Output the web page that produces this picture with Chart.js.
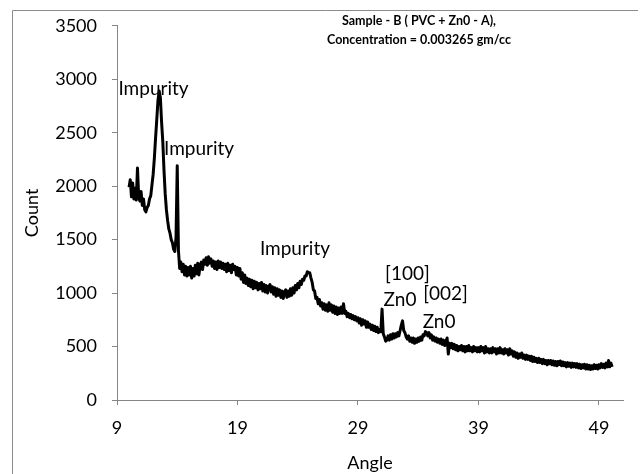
<!DOCTYPE html>
<html>
<head>
<meta charset="utf-8">
<title>Sample - B XRD</title>
<script src="https://cdn.jsdelivr.net/npm/chart.js"></script>
<style>
  html, body { margin: 0; padding: 0; background: #fff; overflow: hidden; }
  canvas { display: block; }
</style>
</head>
<body>
<canvas id="xrd" width="641" height="474"></canvas>
<script>
// diffraction angle (2 theta), step 0.1
const angles = [
  10.0, 10.1, 10.2, 10.3, 10.4, 10.5, 10.6, 10.7, 10.8, 10.9,
  11.0, 11.1, 11.2, 11.3, 11.4, 11.5, 11.6, 11.7, 11.8, 11.9,
  12.0, 12.1, 12.2, 12.3, 12.4, 12.5, 12.6, 12.7, 12.8, 12.9,
  13.0, 13.1, 13.2, 13.3, 13.4, 13.5, 13.6, 13.7, 13.8, 13.9,
  14.0, 14.1, 14.2, 14.3, 14.4, 14.5, 14.6, 14.7, 14.8, 14.9,
  15.0, 15.1, 15.2, 15.3, 15.4, 15.5, 15.6, 15.7, 15.8, 15.9,
  16.0, 16.1, 16.2, 16.3, 16.4, 16.5, 16.6, 16.7, 16.8, 16.9,
  17.0, 17.1, 17.2, 17.3, 17.4, 17.5, 17.6, 17.7, 17.8, 17.9,
  18.0, 18.1, 18.2, 18.3, 18.4, 18.5, 18.6, 18.7, 18.8, 18.9,
  19.0, 19.1, 19.2, 19.3, 19.4, 19.5, 19.6, 19.7, 19.8, 19.9,
  20.0, 20.1, 20.2, 20.3, 20.4, 20.5, 20.6, 20.7, 20.8, 20.9,
  21.0, 21.1, 21.2, 21.3, 21.4, 21.5, 21.6, 21.7, 21.8, 21.9,
  22.0, 22.1, 22.2, 22.3, 22.4, 22.5, 22.6, 22.7, 22.8, 22.9,
  23.0, 23.1, 23.2, 23.3, 23.4, 23.5, 23.6, 23.7, 23.8, 23.9,
  24.0, 24.1, 24.2, 24.3, 24.4, 24.5, 24.6, 24.7, 24.8, 24.9,
  25.0, 25.1, 25.2, 25.3, 25.4, 25.5, 25.6, 25.7, 25.8, 25.9,
  26.0, 26.1, 26.2, 26.3, 26.4, 26.5, 26.6, 26.7, 26.8, 26.9,
  27.0, 27.1, 27.2, 27.3, 27.4, 27.5, 27.6, 27.7, 27.8, 27.9,
  28.0, 28.1, 28.2, 28.3, 28.4, 28.5, 28.6, 28.7, 28.8, 28.9,
  29.0, 29.1, 29.2, 29.3, 29.4, 29.5, 29.6, 29.7, 29.8, 29.9,
  30.0, 30.1, 30.2, 30.3, 30.4, 30.5, 30.6, 30.7, 30.8, 30.9,
  31.0, 31.1, 31.2, 31.3, 31.4, 31.5, 31.6, 31.7, 31.8, 31.9,
  32.0, 32.1, 32.2, 32.3, 32.4, 32.5, 32.6, 32.7, 32.8, 32.9,
  33.0, 33.1, 33.2, 33.3, 33.4, 33.5, 33.6, 33.7, 33.8, 33.9,
  34.0, 34.1, 34.2, 34.3, 34.4, 34.5, 34.6, 34.7, 34.8, 34.9,
  35.0, 35.1, 35.2, 35.3, 35.4, 35.5, 35.6, 35.7, 35.8, 35.9,
  36.0, 36.1, 36.2, 36.3, 36.4, 36.5, 36.6, 36.7, 36.8, 36.9,
  37.0, 37.1, 37.2, 37.3, 37.4, 37.5, 37.6, 37.7, 37.8, 37.9,
  38.0, 38.1, 38.2, 38.3, 38.4, 38.5, 38.6, 38.7, 38.8, 38.9,
  39.0, 39.1, 39.2, 39.3, 39.4, 39.5, 39.6, 39.7, 39.8, 39.9,
  40.0, 40.1, 40.2, 40.3, 40.4, 40.5, 40.6, 40.7, 40.8, 40.9,
  41.0, 41.1, 41.2, 41.3, 41.4, 41.5, 41.6, 41.7, 41.8, 41.9,
  42.0, 42.1, 42.2, 42.3, 42.4, 42.5, 42.6, 42.7, 42.8, 42.9,
  43.0, 43.1, 43.2, 43.3, 43.4, 43.5, 43.6, 43.7, 43.8, 43.9,
  44.0, 44.1, 44.2, 44.3, 44.4, 44.5, 44.6, 44.7, 44.8, 44.9,
  45.0, 45.1, 45.2, 45.3, 45.4, 45.5, 45.6, 45.7, 45.8, 45.9,
  46.0, 46.1, 46.2, 46.3, 46.4, 46.5, 46.6, 46.7, 46.8, 46.9,
  47.0, 47.1, 47.2, 47.3, 47.4, 47.5, 47.6, 47.7, 47.8, 47.9,
  48.0, 48.1, 48.2, 48.3, 48.4, 48.5, 48.6, 48.7, 48.8, 48.9,
  49.0, 49.1, 49.2, 49.3, 49.4, 49.5, 49.6, 49.7, 49.8, 49.9,
  50.0, 50.1
];

// counts, one row per degree
const counts = [
  1990, 2060, 1900, 2030, 1880, 1980, 1870, 2170, 1900, 1860,
  1950, 1820, 1880, 1780, 1760, 1800, 1820, 1880, 1910, 2010,
  2110, 2260, 2450, 2620, 2800, 2890, 2830, 2600, 2420, 2150,
  1930, 1780, 1680, 1600, 1560, 1500, 1470, 1410, 1390, 1520,
  2190, 1400, 1230, 1290, 1200, 1270, 1170, 1250, 1160, 1240,
  1170, 1250, 1140, 1230, 1160, 1260, 1180, 1280, 1170, 1260,
  1290, 1220, 1310, 1270, 1330, 1260, 1340, 1280, 1320, 1250,
  1300, 1230, 1290, 1220, 1300, 1240, 1290, 1230, 1280, 1220,
  1270, 1200, 1280, 1210, 1260, 1190, 1270, 1220, 1250, 1170,
  1240, 1160, 1230, 1130, 1190, 1100, 1170, 1090, 1140, 1070,
  1130, 1060, 1120, 1040, 1110, 1050, 1100, 1030, 1090, 1040,
  1100, 1020, 1080, 1010, 1070, 1000, 1060, 1080, 1010, 1060,
  990, 1050, 970, 1040, 980, 1030, 960, 1020, 950, 1010,
  1030, 960, 1020, 970, 1040, 980, 1050, 1000, 1070, 1030,
  1090, 1050, 1110, 1080, 1130, 1120, 1160, 1160, 1200, 1190,
  1190, 1140, 1100, 1030, 1020, 950, 960, 900, 940, 880,
  910, 850, 900, 840, 890, 830, 910, 840, 890, 820,
  880, 810, 870, 800, 860, 810, 870, 810, 900, 810,
  830, 780, 810, 770, 800, 760, 790, 750, 780, 740,
  770, 720, 760, 700, 750, 710, 740, 680, 730, 680,
  710, 660, 700, 650, 690, 640, 680, 630, 660, 640,
  850, 620, 590, 550, 560, 600, 560, 610, 570, 620,
  580, 620, 590, 630, 600, 650, 700, 740, 650, 630,
  590, 570, 600, 550, 580, 540, 580, 530, 570, 540,
  580, 550, 590, 560, 610, 600, 640, 630, 600, 630,
  580, 610, 560, 590, 550, 580, 540, 570, 530, 570,
  520, 560, 510, 550, 580, 430, 530, 490, 530, 480,
  520, 470, 510, 460, 500, 470, 510, 460, 500, 450,
  500, 460, 510, 460, 490, 450, 500, 460, 490, 450,
  490, 450, 500, 460, 490, 440, 500, 450, 480, 440,
  480, 440, 490, 450, 480, 430, 480, 440, 490, 440,
  470, 430, 480, 440, 470, 420, 480, 430, 460, 410,
  450, 400, 440, 390, 430, 400, 440, 390, 420, 380,
  420, 380, 410, 370, 410, 360, 400, 360, 390, 350,
  390, 350, 380, 340, 380, 340, 370, 330, 370, 340,
  370, 330, 365, 325, 360, 320, 360, 330, 365, 320,
  355, 320, 350, 310, 350, 315, 345, 305, 345, 310,
  340, 305, 340, 300, 335, 295, 330, 300, 335, 290,
  330, 290, 325, 285, 320, 290, 330, 295, 325, 290,
  330, 300, 340, 305, 335, 300, 345, 310, 370, 310,
  345, 310
];

const xTicks = [9, 19, 29, 39, 49];
const yTicks = [0, 500, 1000, 1500, 2000, 2500, 3000, 3500];

const titleLines = ['Sample - B ( PVC + Zn0 - A),', 'Concentration = 0.003265 gm/cc'];

// peak labels, anchored in data units
const peakNotes = [
  { text: 'Impurity', angle: 12.03, count: 2907 },
  { text: 'Impurity', angle: 15.81, count: 2347 },
  { text: 'Impurity', angle: 23.77, count: 1414 },
  { text: '[100]', angle: 33.11, count: 1181 },
  { text: 'Zn0', angle: 32.49, count: 938 },
  { text: '[002]', angle: 36.27, count: 989 },
  { text: 'Zn0', angle: 35.73, count: 733 }
];

Chart.defaults.font.family = 'Lato';
Chart.defaults.color = '#000';

const axisGrey = '#868686';

const frame = {
  id: 'frame',
  beforeDraw(chart) {
    const { ctx, width, height } = chart;
    ctx.save();
    ctx.fillStyle = '#fff';
    ctx.fillRect(0, 0, width, height);
    ctx.strokeStyle = '#8c8c8c';
    ctx.lineWidth = 1;
    ctx.beginPath();
    ctx.moveTo(12.5, height);
    ctx.lineTo(12.5, 10.5);
    ctx.lineTo(638, 10.5);
    ctx.stroke();
    ctx.restore();
  }
};

const notes = {
  id: 'notes',
  afterDatasetsDraw(chart) {
    const { ctx, chartArea, scales: { x, y } } = chart;
    ctx.save();
    ctx.fillStyle = '#000';
    ctx.textAlign = 'center';
    ctx.textBaseline = 'middle';
    ctx.font = '19px Lato';
    peakNotes.forEach((n) => {
      ctx.fillText(n.text, x.getPixelForValue(n.angle), y.getPixelForValue(n.count));
    });
    ctx.font = 'bold 12.5px Lato';
    const cx = chartArea.left + 302;
    titleLines.forEach((t, i) => ctx.fillText(t, cx, 21 + i * 18.5));
    ctx.restore();
  }
};

new Chart(document.getElementById('xrd'), {
  type: 'line',
  data: {
    datasets: [{
      data: angles.map((a, i) => ({ x: a, y: counts[i] })),
      borderColor: '#000',
      borderWidth: 3,
      borderJoinStyle: 'round',
      pointRadius: 0,
      tension: 0,
      fill: false
    }]
  },
  options: {
    responsive: false,
    animation: false,
    events: [],
    layout: { padding: { top: 25, right: 18, bottom: 0, left: 0 } },
    plugins: { legend: { display: false }, tooltip: { enabled: false } },
    scales: {
      x: {
        type: 'linear',
        min: 9,
        max: 51,
        afterBuildTicks: (s) => { s.ticks = xTicks.map((v) => ({ value: v })); },
        afterFit: (s) => { s.height = 74; },
        ticks: { font: { size: 18 }, padding: 12, maxRotation: 0, autoSkip: false, callback: (v) => String(v) },
        grid: { drawOnChartArea: false, tickLength: 5, color: axisGrey },
        border: { color: axisGrey, width: 1 },
        title: { display: true, text: 'Angle', font: { size: 18 }, padding: { top: 0, bottom: 0 } }
      },
      y: {
        min: 0,
        max: 3500,
        afterBuildTicks: (s) => { s.ticks = yTicks.map((v) => ({ value: v })); },
        afterFit: (s) => { s.width = 117; },
        ticks: { font: { size: 18 }, padding: 15, callback: (v) => String(v) },
        grid: { drawOnChartArea: false, tickLength: 5, color: axisGrey },
        border: { color: axisGrey, width: 1 },
        title: { display: true, text: 'Count', font: { size: 18 }, padding: { top: 21, bottom: 0 } }
      }
    }
  },
  plugins: [frame, notes]
});
</script>
</body>
</html>
